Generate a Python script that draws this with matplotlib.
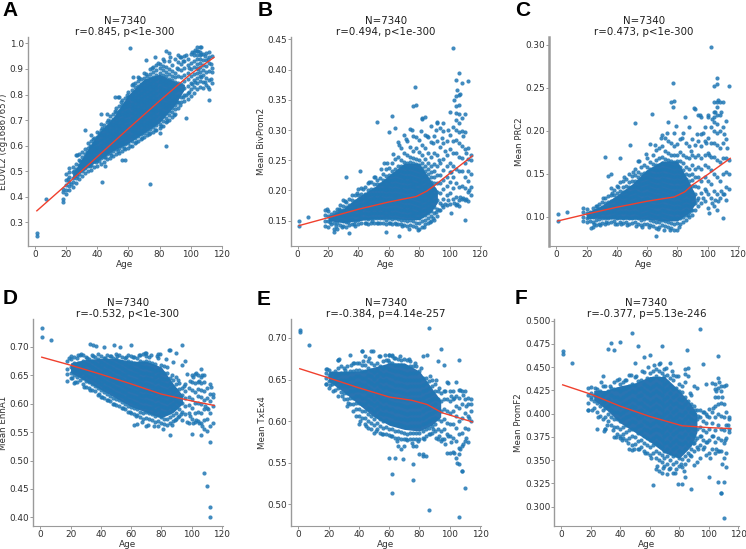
import matplotlib
matplotlib.use('Agg')
import matplotlib.pyplot as plt

# ages of the columns of points (value x 1000 per column)
core_ages = [18, 20, 22, 24, 26, 28, 30, 32, 34, 36, 38, 40, 42, 44, 46, 48, 50,
             52, 54, 56, 58, 60, 62, 64, 66, 68, 70, 72, 74, 76, 78, 80, 82, 84,
             86, 88, 90, 92, 94, 96, 98, 100, 102, 104, 106, 108, 110, 112, 114]

a_core = [
    [378, 392, 418, 432], [412, 428, 446, 464, 488], [425, 442, 458, 476, 498, 512],
    [438, 456, 474, 496, 516], [452, 472, 490, 510, 530, 562], [468, 488, 506, 524, 544, 566],
    [482, 502, 520, 538, 556, 576], [494, 512, 530, 549, 566, 586], [500, 520, 538, 556, 574, 592, 610],
    [506, 526, 544, 563, 580, 598, 618, 640], [518, 538, 556, 574, 592, 611, 630],
    [522, 542, 560, 578, 596, 614, 632, 652], [530, 550, 568, 586, 604, 622, 640, 660, 684],
    [536, 556, 574, 592, 610, 628, 646, 664, 682], [546, 566, 584, 602, 620, 638, 656, 674, 692, 722],
    [552, 572, 590, 608, 626, 644, 662, 680, 698, 716], [558, 578, 596, 614, 632, 650, 668, 686, 704, 722],
    [566, 586, 604, 622, 640, 658, 676, 694, 712, 730, 748],
    [572, 592, 610, 628, 646, 664, 682, 700, 718, 736, 756, 790],
    [578, 598, 616, 634, 652, 670, 688, 706, 724, 742, 760, 778],
    [586, 606, 624, 642, 660, 678, 696, 714, 732, 750, 768, 786],
    [590, 610, 628, 646, 664, 682, 700, 718, 736, 754, 772, 790, 808],
    [600, 620, 638, 656, 674, 692, 710, 728, 746, 764, 782, 800, 818, 836],
    [610, 630, 648, 666, 684, 702, 720, 738, 756, 774, 792, 810, 828, 846],
    [618, 636, 654, 672, 690, 708, 726, 744, 762, 780, 798, 816, 834, 852],
    [626, 644, 662, 680, 698, 716, 734, 752, 770, 788, 806, 824, 842, 860],
    [632, 650, 668, 686, 704, 722, 740, 758, 776, 794, 812, 830, 848, 866, 884],
    [640, 658, 676, 694, 712, 730, 748, 766, 784, 802, 820, 838, 856, 874],
    [648, 666, 684, 702, 720, 738, 756, 774, 792, 810, 828, 846, 864, 882, 900],
    [654, 672, 690, 708, 726, 744, 762, 780, 798, 816, 834, 852, 870, 888, 908],
    [662, 680, 698, 716, 734, 752, 770, 788, 806, 824, 842, 860, 878, 896, 916],
    [668, 686, 704, 722, 740, 758, 776, 794, 812, 830, 848, 866, 884, 902, 920],
    [678, 696, 714, 732, 750, 768, 786, 804, 822, 840, 858, 876, 894, 912, 938],
    [692, 710, 728, 746, 764, 782, 800, 818, 836, 854, 872, 890, 908],
    [700, 718, 736, 754, 772, 790, 808, 826, 844, 862, 880, 898, 930, 962],
    [712, 730, 748, 766, 784, 802, 820, 838, 856, 874, 892, 916],
    [724, 742, 760, 778, 796, 814, 832, 850, 868, 886, 940],
    [748, 772, 796, 820, 846, 872, 898, 926, 956], [770, 792, 816, 842, 868, 894, 918, 948],
    [774, 800, 826, 852, 878, 902, 932, 952], [782, 806, 834, 860, 886, 914, 940],
    [794, 822, 846, 872, 898, 924, 960], [804, 830, 858, 882, 908, 930, 954, 968],
    [820, 846, 866, 884, 902, 920, 938, 956, 970, 984], [830, 852, 872, 890, 908, 924, 940, 954, 968, 984],
    [826, 850, 876, 896, 916, 934, 958], [838, 864, 888, 912, 936, 962],
    [780, 822, 856, 892, 924, 948, 968], [846, 888, 904, 950],
]
a_out_age = [1, 1, 7, 61, 74, 32, 27, 43, 56, 51, 53, 42, 38, 66, 71, 77, 84, 84, 97, 107, 63, 58, 45, 80,
             21, 23, 25, 27, 29, 31, 33, 35, 35, 37, 39, 41, 41, 43, 45, 47, 49, 51, 53, 55, 57, 59, 61, 63, 65, 67,
             69, 71, 73, 75, 77, 79, 81, 83, 85, 87, 89, 91, 91, 93, 93, 95, 95, 97, 97, 99, 99, 101, 101, 103, 103,
             105, 105, 107, 107, 109, 109, 111, 111, 113, 113]
a_out_val = [258, 247, 392, 983, 450, 660, 565, 458, 545, 790, 790, 725, 610, 870, 935, 945, 970, 600, 708, 985, 870, 545, 520, 650,
             470, 450, 500, 480, 540, 510, 575, 520, 600, 625, 535, 540, 650, 670, 555, 700, 565, 735, 580, 770, 590, 800, 600, 840, 615, 865,
             630, 880, 645, 905, 660, 925, 675, 930, 695, 945, 720, 770, 905, 760, 945, 790, 930, 800, 955, 810, 905, 840, 965, 850, 975,
             900, 970, 870, 960, 850, 950, 830, 940, 860, 920]
a_band_age = [24, 30, 40, 50, 60, 70, 80, 90, 96]
a_band_low = [0.47, 0.50, 0.54, 0.58, 0.61, 0.65, 0.69, 0.76, 0.82]
a_band_high = [0.49, 0.55, 0.645, 0.71, 0.80, 0.86, 0.88, 0.85, 0.84]
a_line_age = [1, 20, 40, 60, 80, 100, 115]
a_line_val = [0.345, 0.447, 0.557, 0.667, 0.775, 0.880, 0.945]

b_core = [
    [142, 150, 160, 168], [140, 149, 158, 166], [145, 153, 161], [136, 146, 155, 164], [137, 147, 156, 165, 170],
    [143, 152, 160, 168, 176], [141, 150, 158, 167, 175, 184], [140, 148, 156, 165, 173, 181],
    [143, 151, 160, 168, 176, 186], [145, 153, 161, 169, 177, 185, 193], [142, 150, 159, 167, 175, 183, 192],
    [144, 152, 160, 168, 176, 184, 193, 203], [146, 154, 162, 170, 178, 186, 194, 204],
    [147, 155, 163, 171, 179, 187, 195, 205], [145, 153, 161, 169, 177, 185, 193, 201, 212],
    [146, 154, 162, 170, 178, 186, 194, 202, 214], [147, 155, 163, 171, 179, 187, 195, 203, 211, 222],
    [146, 154, 162, 170, 178, 186, 194, 202, 210, 218], [147, 155, 163, 171, 179, 187, 195, 203, 211, 220],
    [146, 154, 162, 170, 178, 186, 194, 202, 210, 218, 228], [144, 152, 160, 168, 176, 184, 192, 200, 208, 216, 224, 236],
    [146, 154, 162, 170, 178, 186, 194, 202, 210, 218, 226, 238], [145, 153, 161, 169, 177, 185, 193, 201, 209, 217, 225, 233, 246],
    [147, 155, 163, 171, 179, 187, 195, 203, 211, 219, 227, 235, 252], [145, 153, 161, 169, 177, 185, 193, 201, 209, 217, 225, 233, 241, 256, 280],
    [144, 152, 160, 168, 176, 184, 192, 200, 208, 216, 224, 232, 240, 250, 270],
    [143, 151, 159, 167, 175, 183, 191, 199, 207, 215, 223, 231, 239, 247, 262, 292],
    [142, 150, 158, 166, 174, 182, 190, 198, 206, 214, 222, 230, 238, 246, 258, 282],
    [143, 151, 159, 167, 175, 183, 191, 199, 207, 215, 223, 231, 239, 247, 255, 272, 302],
    [141, 149, 157, 165, 173, 181, 189, 197, 205, 213, 221, 229, 237, 245, 253, 266, 290],
    [139, 147, 155, 163, 171, 179, 187, 195, 203, 211, 219, 227, 235, 243, 252, 270, 288],
    [136, 146, 154, 162, 170, 178, 186, 194, 202, 210, 218, 226, 234, 242, 250, 264, 284],
    [140, 150, 158, 166, 174, 182, 190, 198, 206, 214, 222, 230, 238, 246, 258, 276, 320],
    [144, 152, 160, 168, 176, 184, 192, 200, 208, 216, 224, 232, 240, 252, 270, 292],
    [146, 155, 163, 171, 179, 187, 195, 203, 211, 219, 227, 235, 245, 262, 288],
    [150, 158, 166, 174, 182, 190, 198, 206, 214, 222, 230, 240, 256, 280, 307],
    [152, 162, 172, 182, 192, 202, 212, 222, 232, 244, 262, 290],
    [158, 170, 184, 198, 212, 226, 240, 258, 282, 312], [168, 180, 196, 212, 226, 246, 272, 304],
    [172, 186, 202, 218, 234, 252, 278, 298], [176, 192, 208, 222, 240, 258, 282],
    [178, 196, 214, 230, 246, 268, 292], [186, 204, 222, 240, 262, 282, 305],
    [176, 190, 212, 236, 262, 284, 300, 316, 328, 340, 356, 382], [174, 184, 206, 232, 256, 278, 296, 312, 326, 342, 358, 395],
    [186, 208, 232, 254, 274, 298, 320, 378], [184, 204, 222, 246, 268, 296, 326],
    [182, 198, 216, 232, 252, 271, 381], [192, 206, 228, 250, 258],
]
b_out_age = [1, 1, 7, 102, 77, 76, 78, 62, 52, 32, 41, 110, 101, 67, 100, 96, 60, 58, 64, 84, 82, 92, 24, 19, 34, 57,
             21, 25, 27, 29, 31, 33, 37, 39, 43, 45, 47, 49, 51, 53, 55, 59, 61, 63, 65, 67, 69, 71, 73, 75, 79, 81, 83, 85, 87,
             89, 89, 91, 91, 93, 93, 95, 95, 97, 97, 99, 99, 101, 103, 103, 105, 105, 107, 107, 109, 109, 111, 111, 113]
b_out_val = [150, 141, 156, 436, 371, 340, 342, 323, 313, 222, 233, 152, 163, 125, 330, 312, 296, 132, 304, 322, 318, 313, 131, 169, 130, 246,
             148, 142, 170, 139, 182, 148, 144, 196, 202, 147, 214, 150, 222, 146, 236, 245, 146, 260, 144, 275, 141, 285, 136, 300, 134, 298, 140, 290, 148,
             155, 278, 165, 300, 168, 250, 176, 286, 178, 266, 184, 300, 230, 180, 350, 178, 366, 190, 360, 188, 290, 186, 262, 200]
b_band_age = [20, 30, 40, 50, 60, 70, 80, 88, 92]
b_band_low = [0.150, 0.147, 0.150, 0.153, 0.153, 0.152, 0.152, 0.165, 0.180]
b_band_high = [0.158, 0.170, 0.190, 0.205, 0.225, 0.245, 0.245, 0.215, 0.200]
b_line_age = [1, 20, 40, 60, 78, 85, 90, 100, 115]
b_line_val = [0.142, 0.155, 0.169, 0.181, 0.190, 0.199, 0.208, 0.228, 0.257]

c_core = [
    [95, 100, 105, 110], [94, 99, 104, 109], [95, 100, 106], [88, 94, 100, 105, 110], [90, 96, 102, 108, 113], [91, 97, 103, 109, 115],
    [93, 99, 105, 111, 117], [92, 98, 104, 110, 116, 122], [93, 99, 105, 111, 117, 124], [94, 100, 106, 112, 118, 125, 133],
    [95, 101, 107, 113, 119, 125, 131], [92, 98, 104, 110, 116, 122, 128, 136], [94, 100, 106, 112, 118, 124, 130, 140],
    [93, 99, 105, 111, 117, 123, 129, 135, 142], [94, 100, 106, 112, 118, 124, 130, 136, 144], [92, 98, 104, 110, 116, 122, 128, 134, 140, 150],
    [93, 99, 105, 111, 117, 123, 129, 135, 141, 147], [94, 100, 106, 112, 118, 124, 130, 136, 142, 148, 156],
    [92, 98, 104, 110, 116, 122, 128, 134, 140, 146, 152], [90, 96, 102, 108, 114, 120, 126, 132, 138, 144, 150, 158],
    [91, 97, 103, 109, 115, 121, 127, 133, 139, 145, 151, 160], [92, 98, 104, 110, 116, 122, 128, 134, 140, 146, 152, 158, 168],
    [90, 96, 102, 108, 114, 120, 126, 132, 138, 144, 150, 156, 164, 185], [89, 95, 101, 107, 113, 119, 125, 131, 137, 143, 149, 155, 161, 172],
    [87, 94, 100, 106, 112, 118, 124, 130, 136, 142, 148, 154, 160, 166, 178], [88, 94, 100, 106, 112, 118, 124, 130, 136, 142, 148, 154, 160, 168, 180],
    [90, 96, 102, 108, 114, 120, 126, 132, 138, 144, 150, 156, 162, 170, 182, 195], [89, 95, 101, 107, 113, 119, 125, 131, 137, 143, 149, 155, 161, 167, 176, 192],
    [88, 94, 100, 106, 112, 118, 124, 130, 136, 142, 148, 154, 160, 166, 174, 188, 210], [87, 93, 99, 105, 111, 117, 123, 129, 135, 141, 147, 153, 159, 165, 172, 186],
    [85, 92, 98, 104, 110, 116, 122, 128, 134, 140, 146, 152, 158, 164, 172, 182, 197], [85, 93, 99, 105, 111, 117, 123, 129, 135, 141, 147, 153, 159, 165, 172, 185],
    [92, 98, 104, 110, 116, 122, 128, 134, 140, 146, 152, 158, 165, 175, 190], [94, 100, 106, 112, 118, 124, 130, 136, 142, 148, 154, 162, 172, 198],
    [96, 102, 108, 114, 120, 126, 132, 138, 144, 150, 158, 170, 186], [100, 106, 112, 118, 124, 130, 136, 142, 148, 156, 168, 182, 204],
    [102, 108, 115, 122, 129, 136, 143, 150, 160, 172, 190], [108, 116, 126, 136, 146, 156, 170, 184, 226], [112, 122, 134, 146, 158, 172, 188, 218],
    [116, 128, 142, 156, 168, 182, 196, 216], [118, 132, 146, 160, 172, 188, 205], [110, 126, 142, 158, 174, 192, 216],
    [122, 138, 154, 170, 186, 204], [112, 130, 150, 170, 186, 200, 210, 216, 222, 234, 252], [108, 126, 146, 166, 184, 198, 208, 218, 228, 234, 255, 262],
    [122, 142, 164, 180, 200, 218, 234], [99, 126, 150, 168, 186, 205, 234], [120, 134, 152, 168, 190, 212], [132, 150, 166, 252],
]
c_out_age = [1, 1, 7, 102, 77, 76, 78, 77, 63, 52, 32, 49, 42, 85, 66, 91, 101, 34, 36, 100, 95, 23, 54,
             21, 25, 27, 29, 31, 33, 37, 39, 41, 43, 45, 47, 51, 53, 55, 57, 59, 61, 65, 67, 69, 71, 73, 75, 79, 81, 83, 87,
             89, 89, 93, 93, 97, 97, 99, 99, 101, 103, 103, 105, 105, 107, 107, 109, 109, 111, 111, 113]
c_out_val = [103, 95, 106, 298, 256, 234, 235, 228, 220, 209, 169, 183, 168, 216, 78, 227, 104, 147, 150, 218, 218, 87, 165,
             102, 92, 112, 90, 122, 94, 128, 91, 134, 92, 146, 90, 152, 89, 165, 88, 173, 88, 184, 86, 192, 85, 198, 84, 206, 88, 192, 102,
             108, 176, 120, 196, 122, 198, 130, 186, 172, 116, 214, 120, 222, 118, 236, 130, 222, 126, 196, 180]
c_band_age = [20, 30, 40, 50, 60, 70, 80, 88, 92]
c_band_low = [0.098, 0.098, 0.097, 0.097, 0.097, 0.095, 0.095, 0.105, 0.115]
c_band_high = [0.105, 0.113, 0.125, 0.138, 0.155, 0.165, 0.165, 0.140, 0.125]
c_line_age = [1, 20, 40, 60, 78, 85, 90, 100, 115]
c_line_val = [0.095, 0.103, 0.111, 0.118, 0.123, 0.129, 0.137, 0.149, 0.168]

d_core = [
    [640, 652, 662, 675], [645, 655, 665, 678], [636, 650, 660, 672, 682], [638, 648, 658, 668, 680], [642, 652, 662, 672, 686], [634, 646, 656, 666, 676, 686],
    [630, 640, 650, 660, 670, 682], [628, 638, 648, 658, 668, 678], [625, 635, 645, 655, 665, 675, 685], [622, 632, 642, 652, 662, 672, 682],
    [616, 628, 638, 648, 658, 668, 678, 688], [612, 624, 634, 644, 654, 664, 674, 684], [610, 620, 630, 640, 650, 660, 670, 680], [606, 617, 627, 637, 647, 657, 667, 677, 686],
    [604, 614, 624, 634, 644, 654, 664, 674, 684], [600, 611, 621, 631, 641, 651, 661, 671, 681], [598, 608, 618, 628, 638, 648, 658, 668, 678, 688],
    [596, 606, 616, 626, 636, 646, 656, 666, 676, 686], [593, 603, 613, 623, 633, 643, 653, 663, 673, 683], [590, 600, 610, 620, 630, 640, 650, 660, 670, 680],
    [586, 596, 606, 616, 626, 636, 646, 656, 666, 676, 686], [584, 594, 604, 614, 624, 634, 644, 654, 664, 674, 684],
    [562, 582, 592, 602, 612, 622, 632, 642, 652, 662, 672, 682], [564, 580, 590, 600, 610, 620, 630, 640, 650, 660, 670, 680],
    [576, 586, 596, 606, 616, 626, 636, 646, 656, 666, 676, 686], [574, 584, 594, 604, 614, 624, 634, 644, 654, 664, 674, 688],
    [561, 575, 585, 595, 605, 615, 625, 635, 645, 655, 665, 675, 684], [573, 583, 593, 603, 613, 623, 633, 643, 653, 663, 673, 682],
    [572, 582, 592, 602, 612, 622, 632, 642, 652, 662, 672], [568, 578, 588, 598, 608, 618, 628, 638, 648, 658, 670],
    [560, 570, 580, 590, 600, 610, 620, 630, 640, 650, 660, 680], [566, 576, 586, 596, 606, 616, 626, 636, 646, 656, 668],
    [564, 574, 584, 594, 604, 614, 624, 634, 644, 654, 666], [563, 573, 583, 593, 603, 613, 623, 633, 643, 655, 664],
    [545, 566, 576, 586, 596, 606, 616, 626, 636, 646], [570, 580, 590, 600, 610, 620, 630, 642, 674], [574, 584, 594, 604, 614, 624, 634, 648],
    [578, 590, 602, 614, 626, 636], [572, 586, 602, 616, 628, 668, 703], [582, 596, 610, 622, 634, 676], [566, 584, 598, 612, 628],
    [546, 574, 592, 608, 624, 638, 650], [568, 584, 602, 620, 636, 652], [570, 586, 602, 614, 626, 638, 650], [545, 566, 584, 600, 612, 624, 636, 648, 661],
    [556, 572, 590, 606, 622, 638, 651], [552, 574, 592, 610, 628], [532, 560, 584, 604, 618, 634], [566, 596, 612, 618],
]
d_out_age = [1, 1, 7, 108, 110, 112, 112, 33, 35, 37, 42, 49, 53, 60, 85, 86, 78, 79, 27, 25, 20, 19, 90, 70,
             21, 23, 25, 29, 31, 33, 35, 39, 41, 43, 45, 47, 49, 51, 55, 57, 59, 61, 63, 65, 67, 69, 71, 73, 75, 77, 81, 83,
             87, 87, 89, 91, 91, 93, 95, 97, 97, 99, 99, 101, 101, 103, 103, 105, 105, 107, 107, 109, 111, 113]
d_out_val = [733, 718, 712, 478, 455, 418, 400, 705, 704, 702, 700, 704, 700, 703, 695, 694, 688, 687, 687, 686, 684, 680, 690, 690,
             646, 638, 672, 630, 680, 625, 684, 618, 612, 680, 607, 684, 600, 684, 592, 682, 586, 683, 578, 686, 568, 690, 562, 686, 560, 684, 556, 678,
             562, 650, 572, 576, 642, 582, 632, 568, 652, 578, 640, 566, 648, 572, 654, 566, 640, 560, 650, 596, 590, 630]
d_band_age = [20, 30, 40, 50, 60, 70, 80, 88, 94]
d_band_low = [0.655, 0.640, 0.625, 0.610, 0.595, 0.585, 0.575, 0.585, 0.600]
d_band_high = [0.672, 0.678, 0.680, 0.680, 0.675, 0.675, 0.665, 0.635, 0.615]
d_line_age = [1, 20, 40, 60, 80, 100, 115]
d_line_val = [0.682, 0.668, 0.652, 0.635, 0.617, 0.605, 0.597]

e_core = [
    [645, 652, 658, 663], [640, 648, 655, 662], [645, 651, 658], [638, 646, 653, 660], [630, 640, 648, 656, 664, 674], [635, 643, 650, 658, 666],
    [626, 634, 642, 650, 658, 664], [618, 626, 634, 642, 650, 658, 666], [620, 628, 636, 644, 652, 660], [612, 620, 628, 636, 644, 652, 660, 670],
    [606, 614, 622, 630, 638, 646, 654, 662], [596, 606, 614, 622, 630, 638, 646, 654, 662, 670], [604, 612, 620, 628, 636, 644, 652, 660, 668, 684],
    [596, 604, 612, 620, 628, 636, 644, 652, 660, 668], [592, 600, 608, 616, 624, 632, 640, 648, 656, 664, 672], [590, 598, 606, 614, 622, 630, 638, 646, 654, 662, 670, 684],
    [586, 595, 603, 611, 619, 627, 635, 643, 651, 659, 667], [590, 598, 606, 614, 622, 630, 638, 646, 654, 662, 670], [586, 594, 602, 610, 618, 626, 634, 642, 650, 658, 666, 678],
    [584, 592, 600, 608, 616, 624, 632, 640, 648, 656, 664, 672], [585, 593, 601, 609, 617, 625, 633, 641, 649, 657, 665, 674], [556, 583, 591, 599, 607, 615, 623, 631, 639, 647, 655, 663, 671, 679],
    [514, 536, 582, 590, 598, 606, 614, 622, 630, 638, 646, 654, 662, 670, 678], [556, 580, 588, 596, 604, 612, 620, 628, 636, 644, 652, 660, 668, 676],
    [570, 580, 588, 596, 604, 612, 620, 628, 636, 644, 652, 660, 668, 675], [566, 579, 587, 595, 603, 611, 619, 627, 635, 643, 651, 659, 667, 674],
    [570, 578, 586, 594, 602, 610, 618, 626, 634, 642, 650, 658, 666, 675], [577, 585, 593, 601, 609, 617, 625, 633, 641, 649, 657, 665, 673],
    [578, 586, 594, 602, 610, 618, 626, 634, 642, 650, 658, 666, 672], [529, 548, 570, 578, 586, 594, 602, 610, 618, 626, 634, 642, 650, 658, 666],
    [570, 578, 586, 594, 602, 610, 618, 626, 634, 642, 650, 658, 666], [578, 586, 594, 602, 610, 618, 626, 634, 642, 650, 660],
    [560, 580, 588, 596, 604, 612, 620, 628, 636, 644, 652, 678], [558, 582, 590, 598, 606, 614, 622, 630, 638, 646, 652], [493, 584, 592, 600, 608, 616, 624, 632, 640, 648, 712],
    [586, 594, 602, 610, 618, 626, 634, 642, 650], [588, 596, 604, 612, 620, 628, 636, 645], [578, 590, 602, 614, 626, 636, 672],
    [576, 588, 600, 612, 624, 634, 687], [578, 590, 602, 614, 626, 636, 668], [562, 584, 598, 612, 626, 647], [562, 582, 596, 610, 624, 636],
    [563, 580, 596, 612, 626, 636], [556, 576, 592, 606, 618, 630, 647], [485, 548, 568, 584, 600, 616, 628, 637, 673], [540, 570, 586, 604, 620, 636],
    [520, 576, 592, 610, 626, 636], [575, 590, 606, 620, 628], [600, 612, 620, 627],
]
e_out_age = [1, 1, 7, 34, 42, 44, 49, 37, 39, 57, 60, 62, 85, 80, 82, 69, 18, 19, 26, 27, 106, 108, 105,
             21, 23, 25, 29, 31, 33, 35, 41, 43, 45, 47, 51, 53, 55, 59, 61, 63, 65, 67, 71, 73, 75, 77, 79, 81, 83,
             87, 87, 89, 91, 91, 93, 93, 95, 97, 97, 99, 99, 101, 101, 103, 103, 107, 107, 109, 109, 111, 111, 113]
e_out_val = [709, 707, 691, 679, 684, 678, 684, 670, 670, 679, 680, 679, 679, 560, 558, 555, 645, 663, 674, 675, 560, 540, 550,
             644, 636, 655, 630, 662, 622, 668, 600, 672, 594, 676, 588, 678, 584, 674, 582, 676, 576, 678, 578, 675, 574, 670, 576, 664, 578,
             584, 654, 590, 580, 650, 582, 640, 578, 572, 636, 582, 646, 575, 630, 562, 628, 566, 638, 572, 632, 580, 618, 604]
e_band_age = [20, 30, 40, 50, 60, 70, 80, 88, 94]
e_band_low = [0.648, 0.635, 0.620, 0.605, 0.595, 0.590, 0.588, 0.595, 0.605]
e_band_high = [0.660, 0.660, 0.660, 0.665, 0.670, 0.670, 0.660, 0.640, 0.625]
e_line_age = [1, 20, 40, 60, 75, 85, 95, 115]
e_line_val = [0.663, 0.652, 0.640, 0.629, 0.625, 0.620, 0.610, 0.599]

f_core = [
    [404, 412, 420, 428], [416, 422, 429], [406, 414, 420], [383, 402, 412, 420, 427], [398, 408, 416, 424], [394, 404, 412, 420, 430, 441],
    [383, 396, 406, 414, 422, 430], [392, 400, 408, 416, 424, 470], [388, 396, 404, 412, 420, 428, 476], [375, 386, 394, 402, 410, 418, 426, 434, 469],
    [378, 386, 394, 402, 410, 418, 426, 436], [376, 384, 392, 400, 408, 416, 424, 432, 477], [378, 386, 394, 402, 410, 418, 426, 434],
    [372, 380, 388, 396, 404, 412, 420, 428, 436], [362, 374, 382, 390, 398, 406, 414, 422, 430, 442], [366, 376, 384, 392, 400, 408, 416, 424, 432, 487],
    [367, 375, 383, 391, 399, 407, 415, 423, 431, 439, 454], [362, 371, 379, 387, 395, 403, 411, 419, 427, 435, 473], [364, 372, 380, 388, 396, 404, 412, 420, 428, 436],
    [360, 368, 376, 384, 392, 400, 408, 416, 424, 432, 461], [358, 366, 374, 382, 390, 398, 406, 414, 422, 430, 438], [356, 364, 372, 380, 388, 396, 404, 412, 420, 428, 436, 444, 463],
    [323, 358, 366, 374, 382, 390, 398, 406, 414, 422, 430, 438, 446], [340, 352, 360, 368, 376, 384, 392, 400, 408, 416, 424, 432, 440, 448],
    [338, 350, 358, 366, 374, 382, 390, 398, 406, 414, 422, 430, 438, 446, 453], [336, 348, 356, 364, 372, 380, 388, 396, 404, 412, 420, 428, 436, 444, 473],
    [344, 352, 360, 368, 376, 384, 392, 400, 408, 416, 424, 432, 440, 448], [335, 346, 354, 362, 370, 378, 386, 394, 402, 410, 418, 426, 434, 442],
    [342, 350, 358, 366, 374, 382, 390, 398, 406, 414, 422, 430, 438, 455], [336, 346, 354, 362, 370, 378, 386, 394, 402, 410, 418, 426, 436],
    [340, 348, 356, 364, 372, 380, 388, 396, 404, 412, 420, 428, 440], [344, 352, 360, 368, 376, 384, 392, 400, 408, 416, 424, 432],
    [324, 343, 351, 359, 367, 375, 383, 391, 399, 407, 415, 423, 430], [332, 346, 354, 362, 370, 378, 386, 394, 402, 410, 418, 443, 448],
    [350, 358, 366, 374, 382, 390, 398, 406, 414, 449], [319, 354, 362, 370, 378, 386, 394, 402, 410, 420], [345, 360, 368, 376, 384, 392, 400, 408, 430],
    [348, 364, 374, 384, 394, 404, 428], [352, 366, 376, 386, 396, 404, 491], [362, 372, 382, 392, 402, 453], [356, 370, 380, 390, 400, 432],
    [332, 358, 372, 384, 396, 405], [362, 376, 390, 402, 433], [358, 370, 382, 396, 408, 418, 426], [327, 360, 374, 388, 400, 410, 418, 428, 438, 462],
    [315, 360, 372, 384, 398, 412, 424, 430], [288, 327, 352, 368, 382, 396, 410, 430], [343, 358, 374, 388, 402, 431], [380, 384, 394, 396],
]
f_out_age = [1, 1, 7, 84, 85, 79, 83, 48, 37, 40, 30, 18, 20, 108, 104, 56, 42, 86, 76, 29,
             21, 23, 25, 27, 31, 33, 35, 39, 41, 43, 45, 47, 49, 51, 53, 55, 57, 59, 61, 63, 65, 67, 69, 71, 73, 75, 77, 79, 81,
             87, 87, 89, 91, 91, 93, 93, 95, 97, 97, 99, 99, 101, 103, 103, 105, 105, 107, 107, 109, 109, 111, 113]
f_out_val = [467, 464, 455, 434, 468, 324, 338, 361, 375, 374, 383, 404, 418, 315, 432, 445, 374, 441, 442, 381,
             404, 428, 396, 434, 388, 430, 382, 437, 372, 436, 368, 442, 362, 440, 362, 446, 358, 450, 352, 452, 344, 454, 342, 449, 340, 446, 336, 440, 346,
             356, 422, 368, 372, 404, 362, 398, 376, 364, 402, 370, 398, 352, 376, 406, 362, 424, 360, 434, 346, 418, 372, 388]
f_band_age = [22, 30, 40, 50, 60, 70, 80, 88, 92]
f_band_low = [0.415, 0.405, 0.390, 0.380, 0.370, 0.358, 0.352, 0.365, 0.380]
f_band_high = [0.425, 0.425, 0.430, 0.433, 0.440, 0.440, 0.425, 0.410, 0.400]
f_line_age = [1, 20, 40, 60, 82, 100, 115]
f_line_val = [0.431, 0.421, 0.408, 0.397, 0.387, 0.385, 0.384]

W, H = 746, 549
BLUE = '#1f77b4'
DENSE = '#2a74b2'
RED = '#f0402e'
GREY = '#9a9a9a'
TEXT = '#303030'

panels = [
    dict(letter='A', lx=2, ly=16, yl=4, sw=1.0, core=a_core, oa=a_out_age, ov=a_out_val, la=a_line_age, lv=a_line_val,
         ba=a_band_age, bl=a_band_low, bh=a_band_high,
         box=(28, 37, 222, 245.7), xlim=(-4.7, 120.2), ylim=(0.2085, 1.025),
         yticks=[0.3, 0.4, 0.5, 0.6, 0.7, 0.8, 0.9, 1.0], fmt='%.1f',
         ylabel='ELOVL2 (cg16867657)', title='N=7340\nr=0.845, p<1e-300'),
    dict(letter='B', lx=258, ly=16, yl=262, sw=1.0, core=b_core, oa=b_out_age, ov=b_out_val, la=b_line_age, lv=b_line_val,
         ba=b_band_age, bl=b_band_low, bh=b_band_high,
         box=(290.7, 37, 481, 245.7), xlim=(-4.6, 120.7), ylim=(0.1087, 0.4538),
         yticks=[0.15, 0.20, 0.25, 0.30, 0.35, 0.40, 0.45], fmt='%.2f',
         ylabel='Mean BivProm2', title='N=7340\nr=0.494, p<1e-300'),
    dict(letter='C', lx=515, ly=16, yl=520, sw=1.8, core=c_core, oa=c_out_age, ov=c_out_val, la=c_line_age, lv=c_line_val,
         ba=c_band_age, bl=c_band_low, bh=c_band_high,
         box=(548.7, 37, 738.7, 245.7), xlim=(-5, 120.6), ylim=(0.0662, 0.3093),
         yticks=[0.10, 0.15, 0.20, 0.25, 0.30], fmt='%.2f',
         ylabel='Mean PRC2', title='N=7340\nr=0.473, p<1e-300'),
    dict(letter='D', lx=3, ly=304, yl=4, sw=1.0, core=d_core, oa=d_out_age, ov=d_out_val, la=d_line_age, lv=d_line_val,
         ba=d_band_age, bl=d_band_low, bh=d_band_high,
         box=(33.3, 319, 222.7, 526.3), xlim=(-4.6, 120.6), ylim=(0.3841, 0.7493),
         yticks=[0.40, 0.45, 0.50, 0.55, 0.60, 0.65, 0.70], fmt='%.2f',
         ylabel='Mean EnhA1', title='N=7340\nr=-0.532, p<1e-300'),
    dict(letter='E', lx=257, ly=305, yl=263, sw=1.0, core=e_core, oa=e_out_age, ov=e_out_val, la=e_line_age, lv=e_line_val,
         ba=e_band_age, bl=e_band_low, bh=e_band_high,
         box=(291.3, 319, 480.7, 526.3), xlim=(-4.6, 120.4), ylim=(0.4735, 0.7228),
         yticks=[0.50, 0.55, 0.60, 0.65, 0.70], fmt='%.2f',
         ylabel='Mean TxEx4', title='N=7340\nr=-0.384, p=4.14e-257'),
    dict(letter='F', lx=515, ly=304, yl=519, sw=1.0, core=f_core, oa=f_out_age, ov=f_out_val, la=f_line_age, lv=f_line_val,
         ba=f_band_age, bl=f_band_low, bh=f_band_high,
         box=(554.3, 319, 738.7, 526.3), xlim=(-4.7, 120.3), ylim=(0.2789, 0.5018),
         yticks=[0.300, 0.325, 0.350, 0.375, 0.400, 0.425, 0.450, 0.475, 0.500], fmt='%.3f',
         ylabel='Mean PromF2', title='N=7340\nr=-0.377, p=5.13e-246'),
]

fig = plt.figure(figsize=(W / 100, H / 100), dpi=100)

for p in panels:
    x0, y0, x1, y1 = p['box']
    ax = fig.add_axes([x0 / W, 1 - y1 / H, (x1 - x0) / W, (y1 - y0) / H])

    ages, vals = [], []
    for age, col in zip(core_ages, p['core']):
        for v in col:
            ages.append(age)
            vals.append(v / 1000)
    ages += p['oa']
    vals += [v / 1000 for v in p['ov']]

    # the middle of each cloud is solid in the picture, single dots can't be told apart there
    ax.fill_between(p['ba'], p['bl'], p['bh'], color=DENSE, lw=0, zorder=1)
    ax.scatter(ages, vals, s=9, color=BLUE, alpha=0.85, linewidths=0, zorder=2)
    ax.plot(p['la'], p['lv'], color=RED, lw=1.0, zorder=3)

    ax.set_xlim(p['xlim'])
    ax.set_ylim(p['ylim'])
    ax.set_xticks([0, 20, 40, 60, 80, 100, 120])
    ax.set_yticks(p['yticks'])
    ax.set_yticklabels([p['fmt'] % t for t in p['yticks']])
    ax.tick_params(labelsize=6.4, length=2, width=0.7, color=GREY, labelcolor=TEXT, pad=1)
    ax.set_xlabel('Age', fontsize=6.4, color=TEXT, labelpad=0.5)
    ax.set_ylabel(p['ylabel'], fontsize=6.2, color=TEXT)
    # label coords give the right edge of the rotated text, yl is its centre
    ax.yaxis.set_label_coords((p['yl'] + 4 - x0) / (x1 - x0), 0.5)
    ax.set_title(p['title'], fontsize=7.4, color='#202020', pad=1.5, linespacing=1.17)
    ax.spines['top'].set_visible(False)
    ax.spines['right'].set_visible(False)
    ax.spines['left'].set_color(GREY)
    ax.spines['left'].set_linewidth(p['sw'])
    ax.spines['bottom'].set_color(GREY)

    fig.text(p['lx'] / W, 1 - p['ly'] / H, p['letter'], fontsize=15, fontweight='bold',
             family='Liberation Sans', color='black')

fig.savefig('out.png', dpi=100)
plt.close(fig)
